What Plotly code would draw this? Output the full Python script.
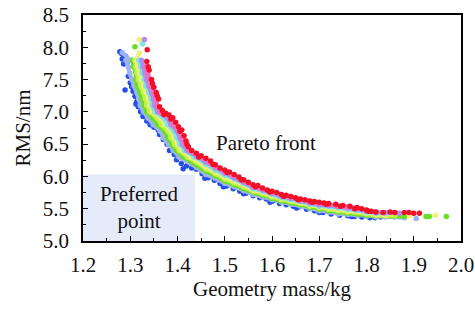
import plotly.graph_objects as go

# ---------------- data ----------------
blue_x = [1.278, 1.282, 1.286, 1.290, 1.283, 1.286, 1.293, 1.289, 1.296, 1.303, 1.306, 1.310, 1.314,
          1.317, 1.322, 1.327, 1.335, 1.342, 1.350, 1.359, 1.362, 1.370, 1.378, 1.388, 1.393, 1.398,
          1.408, 1.419, 1.430, 1.440, 1.452, 1.465, 1.478, 1.490, 1.504, 1.518, 1.532, 1.545, 1.560,
          1.574, 1.588, 1.602, 1.616, 1.630, 1.645, 1.659, 1.673, 1.690, 1.708, 1.725, 1.743, 1.760,
          1.775, 1.790, 1.807, 1.818, 1.830, 1.300, 1.312, 1.355, 1.383, 1.412, 1.458, 1.497, 1.540,
          1.596, 1.652, 1.700, 1.768]
blue_y = [7.93, 7.90, 7.88, 7.86, 7.82, 7.74, 7.76, 7.34, 7.55, 7.39, 7.32, 7.24, 7.16,
          7.08, 7.00, 6.93, 6.86, 6.80, 6.76, 6.72, 6.65, 6.57, 6.50, 6.42, 6.34, 6.26,
          6.20, 6.16, 6.13, 6.11, 6.04, 5.98, 5.94, 5.89, 5.85, 5.81, 5.77, 5.74, 5.70,
          5.67, 5.65, 5.62, 5.58, 5.56, 5.54, 5.53, 5.49, 5.47, 5.44, 5.42, 5.40, 5.39,
          5.38, 5.37, 5.36, 5.36, 5.37, 7.45, 7.12, 6.78, 6.40, 6.12, 5.97, 5.84, 5.73,
          5.60, 5.51, 5.44, 5.38]

lightblue_x = [1.283, 1.300, 1.291, 1.296, 1.299, 1.303, 1.308, 1.314, 1.318, 1.321, 1.328, 1.338,
               1.349, 1.364, 1.370, 1.381, 1.391, 1.403, 1.440, 1.46, 1.48, 1.50, 1.52, 1.54, 1.56,
               1.58, 1.60, 1.62, 1.64, 1.66, 1.68, 1.70, 1.72, 1.74, 1.76, 1.78, 1.80, 1.82, 1.84,
               1.86, 1.88, None, 1.905]
lightblue_y = [7.92, 7.80, 7.80, 7.70, 7.60, 7.50, 7.40, 7.30, 7.20, 7.10, 7.00, 6.90,
               6.80, 6.70, 6.60, 6.50, 6.40, 6.30, 6.14, 6.03, 5.97, 5.89, 5.84, 5.78, 5.72,
               5.68, 5.64, 5.60, 5.57, 5.54, 5.50, 5.47, 5.45, 5.42, 5.41, 5.40, 5.38, 5.37, 5.37,
               5.37, 5.36, None, 5.35]

green_x = [1.310, None, 1.305, 1.307, 1.311, 1.312, 1.315, 1.321, 1.325, 1.329, 1.335, 1.348, 1.358,
           1.373, 1.379, 1.388, 1.398, 1.413, 1.44, 1.46, 1.48, 1.50, 1.52, 1.54, 1.56, 1.58, 1.60,
           1.62, 1.64, 1.66, 1.68, 1.70, 1.72, 1.74, 1.76, 1.78, 1.80, 1.82, 1.84, 1.856, 1.88,
           None, 1.926, 1.933, None, 1.969]
green_y = [8.01, None, 7.80, 7.70, 7.62, 7.50, 7.40, 7.30, 7.20, 7.10, 7.00, 6.90, 6.80,
           6.70, 6.60, 6.50, 6.40, 6.30, 6.18, 6.08, 6.01, 5.93, 5.87, 5.81, 5.75, 5.71, 5.66,
           5.62, 5.59, 5.56, 5.52, 5.49, 5.47, 5.45, 5.43, 5.42, 5.40, 5.39, 5.39, 5.38, 5.38,
           None, 5.38, 5.38, None, 5.38]

ygreen_x = [1.310, 1.312, 1.314, 1.317, 1.322, 1.328, 1.332, 1.335, 1.341, 1.357, 1.366, 1.380,
            1.386, 1.394, 1.404, 1.421, 1.44, 1.46, 1.48, 1.50, 1.52, 1.54, 1.56, 1.58, 1.60, 1.62,
            1.64, 1.66, 1.68, 1.70, 1.72, 1.74, 1.76, 1.78, 1.80, 1.82, 1.84, 1.86]
ygreen_y = [7.80, 7.70, 7.60, 7.50, 7.40, 7.30, 7.20, 7.10, 7.00, 6.90, 6.80, 6.70,
            6.60, 6.50, 6.40, 6.30, 6.22, 6.12, 6.04, 5.96, 5.90, 5.84, 5.77, 5.73, 5.68, 5.64,
            5.61, 5.58, 5.54, 5.51, 5.49, 5.47, 5.45, 5.44, 5.42, 5.40, 5.39, 5.39]

yellow_x = [1.319, None, 1.319, 1.313, 1.316, 1.320, 1.323, 1.328, 1.334, 1.338, 1.341, 1.347, 1.365,
            1.373, 1.387, 1.393, 1.400, 1.410, 1.428, 1.45, 1.46, 1.48, 1.50, 1.52, 1.54, 1.56,
            1.58, 1.60, 1.62, 1.64, 1.66, 1.68, 1.70, 1.72, 1.74, 1.76, 1.78, 1.80, 1.82, 1.84,
            None, 1.891, None, 1.946]
yellow_y = [8.12, None, 7.91, 7.80, 7.70, 7.60, 7.50, 7.40, 7.30, 7.20, 7.10, 7.00, 6.90,
            6.80, 6.70, 6.60, 6.50, 6.40, 6.30, 6.20, 6.15, 6.07, 5.99, 5.93, 5.87, 5.79,
            5.75, 5.70, 5.66, 5.63, 5.60, 5.56, 5.53, 5.51, 5.49, 5.47, 5.46, 5.43, 5.41, 5.40,
            None, 5.39, None, 5.40]

cyan_x = [1.326, None, 1.318, 1.322, 1.325, 1.329, 1.333, 1.339, 1.344, 1.346, 1.352, 1.371, 1.379,
          1.392, 1.398, 1.405, 1.415, 1.435, 1.46, 1.48, 1.50, 1.52, 1.54, 1.56, 1.58, 1.60, 1.62,
          1.64, 1.66, 1.68, 1.70, 1.72, 1.74, 1.76, 1.78, 1.80, 1.82, 1.84, 1.86]
cyan_y = [8.05, None, 7.80, 7.70, 7.60, 7.50, 7.40, 7.30, 7.20, 7.10, 7.00, 6.90, 6.80,
          6.70, 6.60, 6.50, 6.40, 6.30, 6.19, 6.10, 6.02, 5.96, 5.89, 5.81, 5.77, 5.72, 5.67,
          5.64, 5.61, 5.57, 5.54, 5.53, 5.51, 5.49, 5.47, 5.44, 5.43, 5.43, 5.44]

lavender_x = [1.330, None, 1.324, 1.327, 1.331, 1.334, 1.339, 1.345, 1.349, 1.351, 1.358, 1.379,
              1.386, 1.399, 1.405, 1.410, 1.420, 1.442, 1.46, 1.48, 1.50, 1.52, 1.54, 1.56, 1.58,
              1.60, 1.62, 1.64, 1.66, 1.68, 1.70, 1.72, 1.74, 1.76, 1.78, 1.80, 1.82, 1.84, 1.87]
lavender_y = [8.12, None, 7.80, 7.70, 7.60, 7.50, 7.40, 7.30, 7.20, 7.10, 7.00, 6.90,
              6.80, 6.70, 6.60, 6.50, 6.40, 6.30, 6.22, 6.13, 6.05, 5.98, 5.91, 5.83, 5.79,
              5.74, 5.69, 5.66, 5.62, 5.59, 5.56, 5.55, 5.53, 5.51, 5.49, 5.46, 5.44, 5.44, 5.43]

pink_x = [1.333, 1.337, 1.340, 1.344, 1.350, 1.355, 1.357, 1.363, 1.386, 1.392, 1.405, 1.411,
          1.416, 1.426, 1.449, 1.47, 1.48, 1.50, 1.52, 1.54, 1.56, 1.58, 1.60, 1.62, 1.64, 1.66,
          1.68, 1.70, 1.72, 1.74, 1.76, 1.78, 1.80, 1.82]
pink_y = [7.70, 7.60, 7.50, 7.40, 7.30, 7.20, 7.10, 7.00, 6.90, 6.80, 6.70, 6.60,
          6.50, 6.40, 6.30, 6.20, 6.16, 6.08, 6.01, 5.93, 5.85, 5.80, 5.76, 5.71, 5.68, 5.64,
          5.61, 5.58, 5.57, 5.54, 5.53, 5.51, 5.47, 5.45]

red_x = [1.336, 1.335, 1.340, 1.345, 1.350, 1.355, 1.360, 1.362, 1.368, 1.375, 1.382, 1.390, 1.396,
         1.402, 1.409, 1.414, 1.418, 1.423, 1.430, 1.440, 1.450, 1.460, 1.470, 1.480, 1.490, 1.500,
         1.510, 1.520, 1.530, 1.540, 1.550, 1.560, 1.570, 1.580, 1.590, 1.600, 1.610, 1.620, 1.630,
         1.640, 1.650, 1.660, 1.670, 1.680, 1.690, 1.700, 1.710, 1.720, 1.735, 1.750, 1.765, 1.780,
         1.790, 1.800, 1.810, 1.820, 1.835, 1.850, 1.860, 1.880, 1.890, 1.900, 1.912,
         1.338, 1.347, 1.357, 1.371, 1.386, 1.405, 1.420, 1.445, 1.475, 1.505, 1.535, 1.565, 1.595,
         1.625, 1.655, 1.685, 1.715, 1.745, 1.775, 1.805]
red_y = [7.96, 7.78, 7.65, 7.50, 7.38, 7.30, 7.20, 7.08, 7.02, 6.98, 6.95, 6.91, 6.84,
         6.77, 6.72, 6.63, 6.55, 6.46, 6.40, 6.36, 6.32, 6.28, 6.24, 6.18, 6.13, 6.10,
         6.07, 6.03, 5.99, 5.95, 5.91, 5.87, 5.86, 5.82, 5.79, 5.77, 5.75, 5.72, 5.71,
         5.69, 5.67, 5.65, 5.64, 5.62, 5.61, 5.60, 5.59, 5.58, 5.57, 5.55, 5.54, 5.52,
         5.50, 5.48, 5.46, 5.45, 5.44, 5.45, 5.44, 5.44, 5.44, 5.43, 5.43,
         7.70, 7.44, 7.25, 6.96, 6.89, 6.70, 6.50, 6.30, 6.19, 6.06, 5.95, 5.84, 5.76,
         5.69, 5.64, 5.60, 5.57, 5.54, 5.50, 5.46]

x_ticks = [1.2, 1.3, 1.4, 1.5, 1.6, 1.7, 1.8, 1.9, 2.0]
y_ticks = [5.0, 5.5, 6.0, 6.5, 7.0, 7.5, 8.0, 8.5]
preferred_x = [1.2, 1.437]
preferred_y = [5.0, 6.03]

# ---------------- figure ----------------
FONT = "Liberation Serif, Times New Roman, serif"
FS = 21
fig = go.Figure()

line_series = [
    (lightblue_x, lightblue_y, "#9fb2f2"),
    (green_x, green_y, "#66e024"),
    (ygreen_x, ygreen_y, "#c6f046"),
    (yellow_x, yellow_y, "#eef07c"),
    (cyan_x, cyan_y, "#7ce8da"),
    (lavender_x, lavender_y, "#b08cf0"),
    (pink_x, pink_y, "#f070b8"),
]

fig.add_trace(go.Scatter(x=blue_x, y=blue_y, mode="markers",
                         marker=dict(color="#2050e6", size=5.5, line=dict(width=0)),
                         showlegend=False, hoverinfo="skip"))
for xs, ys, col in line_series:
    fig.add_trace(go.Scatter(x=xs, y=ys, mode="lines+markers",
                             line=dict(color=col, width=4),
                             marker=dict(color=col, size=5.5, line=dict(width=0)),
                             connectgaps=False, showlegend=False, hoverinfo="skip"))
fig.add_trace(go.Scatter(x=red_x, y=red_y, mode="markers",
                         marker=dict(color="#f01028", size=5.5, line=dict(width=0)),
                         showlegend=False, hoverinfo="skip"))

fig.add_shape(type="rect", xref="x", yref="y",
              x0=preferred_x[0], x1=preferred_x[1], y0=preferred_y[0], y1=preferred_y[1],
              fillcolor="#e6ebfa", line=dict(width=0), layer="below")

fig.add_annotation(x=1.32, y=5.52, text="Preferred<br>point", showarrow=False,
                   font=dict(family=FONT, size=FS, color="#111"), align="center")
fig.add_annotation(x=1.588, y=6.52, text="Pareto front", showarrow=False,
                   font=dict(family=FONT, size=FS, color="#111"))

axis_common = dict(showgrid=False, zeroline=False, showline=True, linecolor="black",
                   linewidth=1.5, mirror=True, ticks="inside", ticklen=5, tickwidth=1.2,
                   tickcolor="black", automargin=False,
                   tickfont=dict(family=FONT, size=FS, color="#111"))

fig.update_xaxes(range=[1.2, 2.0], tickvals=x_ticks, ticktext=[f"{v:.1f}" for v in x_ticks],
                 minor=dict(dtick=0.05, tick0=1.2, ticks="inside", ticklen=3, tickcolor="black"),
                 ticklabelstandoff=4,
                 title=dict(text="Geometry mass/kg", font=dict(family=FONT, size=FS, color="#111"),
                            standoff=5),
                 **axis_common)
fig.update_yaxes(range=[5.0, 8.5], tickvals=y_ticks, ticktext=[f"{v:.1f}" for v in y_ticks],
                 minor=dict(dtick=0.25, tick0=5.0, ticks="inside", ticklen=3, tickcolor="black"),
                 ticklabelstandoff=8,
                 title=dict(text="RMS/nm", font=dict(family=FONT, size=FS, color="#111"),
                            standoff=6),
                 **axis_common)

fig.update_layout(width=475, height=309,
                  margin=dict(l=83, r=14, t=15, b=68, autoexpand=False),
                  paper_bgcolor="white", plot_bgcolor="white")

fig.write_html("out.html", config={"displayModeBar": False},
               post_script="document.body.style.margin='0px';document.body.style.overflow='hidden';")
